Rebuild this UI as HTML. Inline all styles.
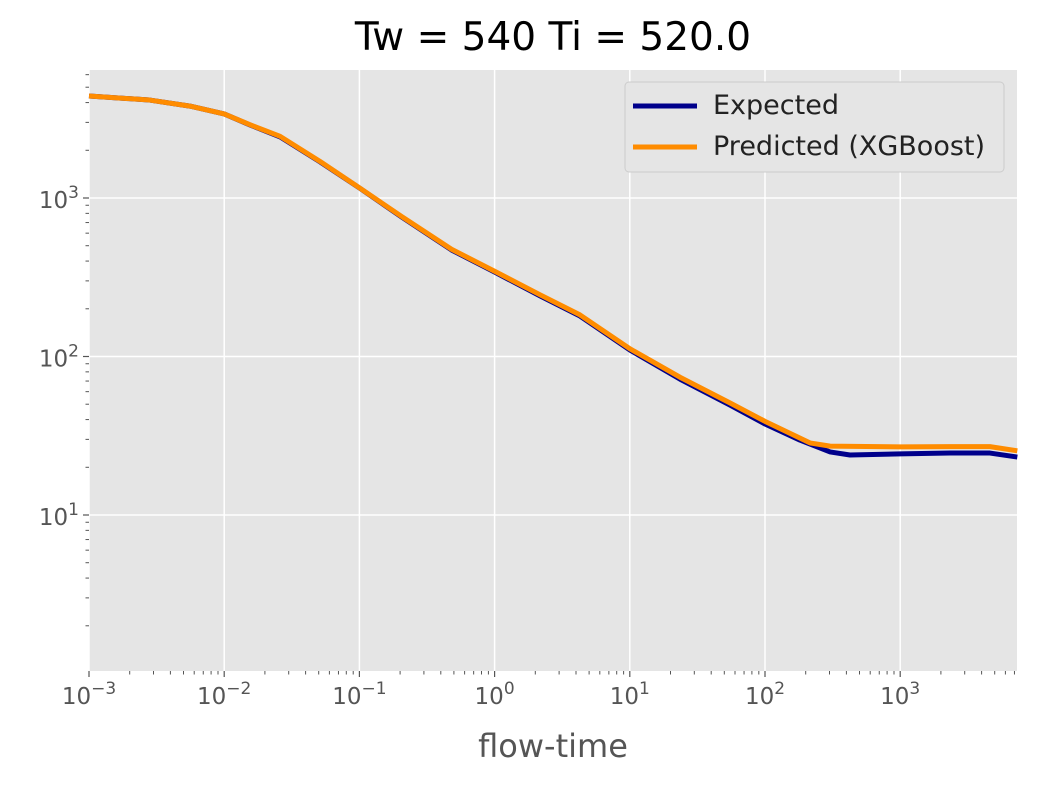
<!DOCTYPE html>
<html><head><meta charset="utf-8"><style>
body{margin:0;background:#fff;}
svg text{font-family:"DejaVu Sans","Liberation Sans",sans-serif;}
</style></head><body>
<svg id="chart" width="1037" height="785" xmlns="http://www.w3.org/2000/svg">
<text x="553" y="50" font-size="39" text-anchor="middle" fill="#000">Tw = 540 Ti = 520.0</text>
<rect x="89" y="70" width="928" height="601" fill="#E5E5E5"/>
<g id="grid"></g><g id="ticks"></g><g id="series"></g>
<text x="553" y="757" font-size="32" text-anchor="middle" fill="#555">flow-time</text>
<g>
<rect x="625" y="82" width="379" height="90" rx="4" fill="#E5E5E5" stroke="#ccc" stroke-width="1"/>
<line x1="633" y1="106" x2="697" y2="106" stroke="#00008B" stroke-width="5"/>
<text x="713" y="114" font-size="27" fill="#222">Expected</text>
<line x1="633" y1="147" x2="697" y2="147" stroke="#FF8C00" stroke-width="5"/>
<text x="713" y="155" font-size="27" fill="#222">Predicted (XGBoost)</text>
</g>
</svg>
<script>
const xTicks=[-3,-2,-1,0,1,2,3];
const yTicks=[1,2,3];
const expX=[0.001,0.00281,0.00558,0.01,0.0155,0.0259,0.0512,0.1,0.205,0.48,1,2.17,4.28,10,23.5,55,100,181,303,425,1000,2335,4610,7350];
const expY=[4400,4150,3800,3390,2890,2430,1690,1157,759,470,341,241,180,110,72,49.4,37.5,29.7,25,23.9,24.3,24.6,24.6,23.2];
const predX=[0.001,0.00281,0.00558,0.01,0.0155,0.0259,0.0512,0.1,0.205,0.48,1,2.17,4.28,10,23.5,55,100,215,303,1000,2335,4610,7350];
const predY=[4400,4150,3800,3390,2900,2450,1700,1160,765,475,345,245,183,112,74,51,39,28.5,27.2,26.9,27.0,27.0,25.4];
const ns="http://www.w3.org/2000/svg";
const X0=89,X1=1017,Y0=70,Y1=671,DX=135.2,DY=158.5;
const xs=v=>X0+(Math.log10(v)+3)*DX;
const ys=v=>198-(Math.log10(v)-3)*DY;
function mk(t,a,p){const e=document.createElementNS(ns,t);for(const k in a)e.setAttribute(k,a[k]);p.appendChild(e);return e;}
const grid=document.getElementById('grid'),ticks=document.getElementById('ticks'),ser=document.getElementById('series');
xTicks.forEach(d=>{const x=X0+(d+3)*DX;
 const g=mk('line',{x1:x,x2:x,y1:Y0,y2:Y1,stroke:'#fff','stroke-width':1.5},grid);
 
 mk('line',{x1:x,x2:x,y1:Y1,y2:Y1+6,stroke:'#555','stroke-width':1.2},ticks);
 const t=mk('text',{x:x,y:Y1+33,'font-size':23,'text-anchor':'middle',fill:'#555'},ticks);
 
 t.innerHTML='10<tspan dy="-10" font-size="17">'+(d<0?'\u2212'+(-d):d)+'</tspan>';
 for(let m=2;m<10;m++){const xm=x+Math.log10(m)*DX;if(xm<X1)mk('line',{x1:xm,x2:xm,y1:Y1,y2:Y1+3.5,stroke:'#555','stroke-width':1},ticks);}
});
yTicks.forEach(d=>{const y=ys(Math.pow(10,d));
 const g=mk('line',{x1:X0,x2:X1,y1:y,y2:y,stroke:'#fff','stroke-width':1.5},grid);
 
 mk('line',{x1:X0-6,x2:X0,y1:y,y2:y,stroke:'#555','stroke-width':1.2},ticks);
 const t=mk('text',{x:X0-10,y:y+10,'font-size':23,'text-anchor':'end',fill:'#555'},ticks);
 
 t.innerHTML='10<tspan dy="-10" font-size="17">'+d+'</tspan>';
});
for(let d=0;d<4;d++)for(let m=2;m<10;m++){const y=ys(m*Math.pow(10,d));if(y>Y0&&y<Y1)mk('line',{x1:X0-3.5,x2:X0,y1:y,y2:y,stroke:'#555','stroke-width':1},ticks);}
function line(xa,ya,c,name){const p=mk('polyline',{points:xa.map((v,i)=>xs(v)+','+ys(ya[i])).join(' '),fill:'none',stroke:c,'stroke-width':5,'stroke-linejoin':'round'},ser);
 }
line(expX,expY,'#00008B','expected-line');
line(predX,predY,'#FF8C00','predicted-line');
</script>
</body></html>
